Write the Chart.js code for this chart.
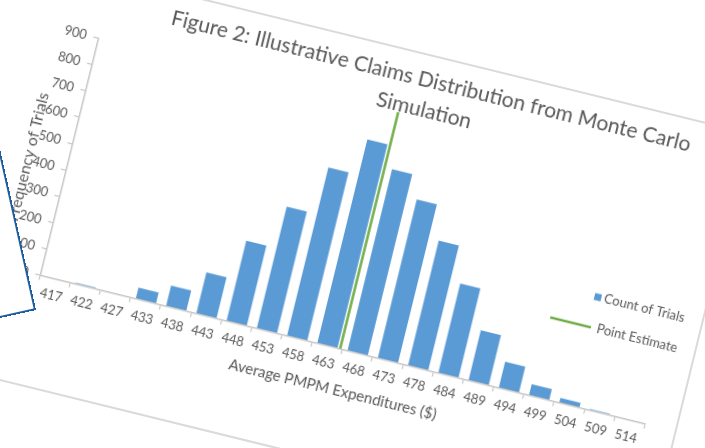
<!DOCTYPE html>
<html>
<head>
<meta charset="utf-8">
<title>Illustrative Claims Distribution</title>
<script src="https://cdn.jsdelivr.net/npm/chart.js@4.4.0/dist/chart.umd.min.js"></script>
<style>
  html, body { margin: 0; padding: 0; width: 705px; height: 448px; overflow: hidden; background: #ffffff; }
  /* the printed figure sits tilted on the page */
  #sheet { position: absolute; left: 0; top: 0; transform-origin: 0 0; transform: rotate(13.8deg); }
  #frame { position: absolute; left: 0; top: -48px; width: 758px; height: 416px; background: #fff;
           outline: 2px solid #dadada; }
  #frame canvas { position: absolute; left: 0; top: 0; }
  /* neighbouring text box overlapping the figure's left edge */
  #inset { position: absolute; left: -264px; top: -90px; width: 300px; height: 400px; background: #fff;
           border: 2px solid #1f5e9e; box-sizing: border-box; transform-origin: 100% 100%;
           transform: rotate(-12.6deg); }
</style>
</head>
<body>
<div id="sheet">
  <div id="frame"><canvas id="claims" width="758" height="416"></canvas></div>
</div>
<div id="inset"></div>
<script>
// Average PMPM expenditure bins ($)
const expenditureLabels = ['417', '422', '427', '433', '438', '443', '448', '453', '458', '463',
                           '468', '473', '478', '484', '489', '494', '499', '504', '509', '514'];
// Number of simulated trials falling in each bin
const trialCounts = [0, 4, 2, 42, 78, 156, 305, 463, 640, 775,
                     690, 603, 475, 340, 190, 99, 42, 18, 4, 0];
// Deterministic point estimate of the average PMPM ($)
const pointEstimate = 465;
// Frequency axis
const frequencyMax = 900;
const frequencyStep = 100;
// Figure heading, two lines
const titleLines = ['Figure 2: Illustrative Claims Distribution from Monte Carlo', 'Simulation'];
const frequencyCaption = 'Frequency of Trials';

const TEXT = '#595959';
const AXIS = '#c6c6c6';
const BAR_BLUE = '#5b9bd5';
const LINE_GREEN = '#70ad47';
const FONT = 'Lato, "Open Sans", sans-serif';

// value scale matching the category bins, so the estimate lands between bins
const firstBin = Number(expenditureLabels[0]);
const lastBin = Number(expenditureLabels[expenditureLabels.length - 1]);
const binStep = (lastBin - firstBin) / (expenditureLabels.length - 1);

const figureTitle = {
  id: 'figureTitle',
  afterDraw(chart, args, o) {
    const ctx = chart.ctx;
    ctx.save();
    ctx.font = o.size + 'px ' + o.family;
    ctx.fillStyle = o.color;
    ctx.textAlign = 'center';
    ctx.textBaseline = 'middle';
    o.lines.forEach((t, i) => ctx.fillText(t, o.x, o.y + i * o.gap));
    ctx.restore();
  }
};

// vertical caption of the frequency axis, sitting a little below the axis midpoint
const axisCaption = {
  id: 'axisCaption',
  afterDraw(chart, args, o) {
    const {ctx, chartArea} = chart;
    ctx.save();
    ctx.translate(o.x, (chartArea.top + chartArea.bottom) / 2 + o.shift);
    ctx.rotate(-Math.PI / 2);
    ctx.font = o.size + 'px ' + o.family;
    ctx.fillStyle = o.color;
    ctx.textAlign = 'center';
    ctx.textBaseline = 'middle';
    ctx.fillText(o.text, 0, 0);
    ctx.restore();
  }
};

const insetLegend = {
  id: 'insetLegend',
  afterDraw(chart, args, o) {
    const ctx = chart.ctx;
    ctx.save();
    ctx.font = o.size + 'px ' + o.family;
    ctx.fillStyle = o.color;
    ctx.textAlign = 'left';
    ctx.textBaseline = 'middle';
    chart.data.datasets.forEach((ds, i) => {
      const y = o.y + i * o.gap;
      if (ds.type === 'line') {
        ctx.save();
        ctx.strokeStyle = ds.borderColor;
        ctx.lineWidth = ds.borderWidth;
        ctx.beginPath();
        ctx.moveTo(o.x - 48, y);
        ctx.lineTo(o.x - 6, y);
        ctx.stroke();
        ctx.restore();
      } else {
        ctx.save();
        ctx.fillStyle = ds.backgroundColor;
        ctx.fillRect(o.x - 10, y - 3.5, 7, 7);
        ctx.restore();
      }
      ctx.fillText(ds.label, o.x, y);
    });
    ctx.restore();
  }
};

new Chart(document.getElementById('claims'), {
  type: 'bar',
  data: {
    labels: expenditureLabels,
    datasets: [
      {
        type: 'bar',
        label: 'Count of Trials',
        data: trialCounts,
        backgroundColor: BAR_BLUE,
        barPercentage: 0.667,
        categoryPercentage: 1,
        grouped: false,
        xAxisID: 'x',
        yAxisID: 'y',
        order: 2
      },
      {
        type: 'line',
        label: 'Point Estimate',
        data: [{ x: pointEstimate, y: 0 }, { x: pointEstimate, y: frequencyMax }],
        borderColor: LINE_GREEN,
        borderWidth: 2.5,
        pointRadius: 0,
        xAxisID: 'xValue',
        yAxisID: 'y',
        order: 1
      }
    ]
  },
  options: {
    responsive: false,
    animation: false,
    devicePixelRatio: 1,
    layout: { padding: { left: 0, right: 30.6, top: 61.8, bottom: 0 } },
    plugins: {
      legend: { display: false },
      title: { display: false },
      tooltip: { enabled: false },
      figureTitle: { lines: titleLines, x: 438, y: 24, gap: 30, size: 21, family: FONT, color: TEXT },
      axisCaption: { text: frequencyCaption, x: 65, shift: 10, size: 16, family: FONT, color: TEXT },
      insetLegend: { x: 658, y: 194, gap: 31, size: 13, family: FONT, color: TEXT }
    },
    scales: {
      x: {
        type: 'category',
        position: 'bottom',
        offset: true,
        grid: { display: true, drawOnChartArea: false, offset: true, tickLength: 5, color: AXIS, lineWidth: 1.2 },
        border: { display: true, color: AXIS, width: 1.5 },
        ticks: { color: TEXT, font: { family: FONT, size: 13 }, padding: 5, maxRotation: 0, autoSkip: false },
        title: { display: true, text: 'Average PMPM Expenditures ($)', color: TEXT,
                 font: { family: FONT, size: 15 }, padding: { top: 0, bottom: 60 } },
        afterFit(scale) { scale.height = 110.5; }
      },
      xValue: {
        type: 'linear',
        display: false,
        min: firstBin - binStep / 2,
        max: lastBin + binStep / 2
      },
      y: {
        min: 0,
        max: frequencyMax,
        grid: { display: true, drawOnChartArea: false, tickLength: 5, color: AXIS, lineWidth: 1.2 },
        border: { display: true, color: AXIS, width: 1.5 },
        ticks: { stepSize: frequencyStep, color: TEXT, font: { family: FONT, size: 13 }, padding: 7 },
        afterFit(scale) { scale.width = 104.5; }
      }
    }
  },
  plugins: [figureTitle, axisCaption, insetLegend]
});
</script>
</body>
</html>
